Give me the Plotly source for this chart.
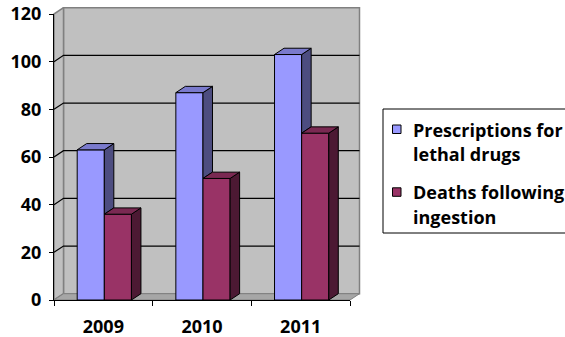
import plotly.graph_objects as go

# ---- data ----
years = ["2009", "2010", "2011"]
prescriptions = [63, 87, 103]
deaths = [36, 51, 70]
y_ticks = [0, 20, 40, 60, 80, 100, 120]
legend_lines = [["Prescriptions for", "lethal drugs"], ["Deaths following", "ingestion"]]

# ---- layout constants (pixels) ----
W, H = 565, 337
FL, FR, FT, FB = 54, 350, 14, 300      # front plot area
DX, DY = 9.5, 6.3                      # 3-D depth offset in px
PAD = 3
Y_MAX = 120
xpos = list(range(len(years)))
X0, X1 = -0.5, len(years) - 0.5
ppx = (FR - FL) / (X1 - X0)            # px per x unit
ppy = (FB - FT) / Y_MAX                # px per y unit
dxu, dyu = DX / ppx, DY / ppy

FONT = "Open Sans"
BLUE_F, BLUE_T, BLUE_S = "#9999FF", "#7A7ACC", "#4D4D80"
RED_F, RED_T, RED_S = "#993366", "#7A2952", "#4C1933"
WALL, FLOOR, EDGE = "#C0C0C0", "#A6A6A6", "#808080"

BW = 0.275
offs = [-0.265, 0.01]

fig = go.Figure()

def poly(xs, ys, fill, line, lw=1, xa="x", ya="y"):
    fig.add_trace(go.Scatter(x=xs, y=ys, mode="lines", fill="toself", fillcolor=fill,
                             line=dict(color=line, width=lw), hoverinfo="skip",
                             showlegend=False, xaxis=xa, yaxis=ya))

# ---------- background (walls, floor, grid) ----------
poly([X0 + dxu, X1 + dxu, X1 + dxu, X0 + dxu, X0 + dxu],
     [dyu, dyu, Y_MAX + dyu, Y_MAX + dyu, dyu], WALL, EDGE, 1.5)
poly([X0, X0 + dxu, X0 + dxu, X0, X0],
     [0, dyu, Y_MAX + dyu, Y_MAX, 0], WALL, EDGE, 1.5)
poly([X0, X1, X1 + dxu, X0 + dxu, X0],
     [0, 0, dyu, dyu, 0], FLOOR, EDGE, 1)
gx, gy = [], []
for t in y_ticks[1:-1]:
    gx += [X0, X0 + dxu, X1 + dxu, None]
    gy += [t, t + dyu, t + dyu, None]
fig.add_trace(go.Scatter(x=gx, y=gy, mode="lines", line=dict(color="black", width=1.2),
                         hoverinfo="skip", showlegend=False, xaxis="x", yaxis="y"))

# ---------- bars ----------
front_cols = [BLUE_F, RED_F]
top_cols = [BLUE_T, RED_T]
side_cols = [BLUE_S, RED_S]
vals = [prescriptions, deaths]

for k in range(2):
    fig.add_trace(go.Bar(x=xpos, y=vals[k], width=BW, offset=offs[k],
                         name=" ".join(legend_lines[k]),
                         marker=dict(color=front_cols[k], line=dict(color="black", width=1)),
                         showlegend=False, xaxis="x2", yaxis="y2", hoverinfo="skip"))

for k in range(2):
    tx, ty, sx, sy = [], [], [], []
    for i, c in enumerate(xpos):
        v = vals[k][i]
        a = c + offs[k]
        b = a + BW
        base = deaths[i] if k == 0 else 0
        tx += [a, b, b + dxu, a + dxu, a, None]
        ty += [v, v, v + dyu, v + dyu, v, None]
        sx += [b, b + dxu, b + dxu, b, b, None]
        sy += [base, base + dyu, v + dyu, v, base, None]
    poly(sx, sy, side_cols[k], "black", 1, "x2", "y2")
    poly(tx, ty, top_cols[k], "black", 1, "x2", "y2")

# ---------- legend (box, swatches, text) ----------
LG_L, LG_T, LG_B = 383, 109, 233
shapes = [dict(type="rect", xref="paper", yref="paper",
               x0=LG_L / W, x1=(W + 5) / W, y0=1 - LG_B / H, y1=1 - LG_T / H,
               line=dict(color="black", width=1), fillcolor="white", layer="below")]
annotations = []
item_y = [129.5, 192.3]      # cap-centre of first line of each item (px)
line_gap = 24.6
for k in range(2):
    cy = item_y[k]
    shapes.append(dict(type="rect", xref="paper", yref="paper",
                       x0=392.5 / W, x1=401 / W, y0=1 - (cy + 4) / H, y1=1 - (cy - 4.5) / H,
                       line=dict(color="black", width=1), fillcolor=front_cols[k]))
    for j, txt in enumerate(legend_lines[k]):
        annotations.append(dict(text=txt, xref="paper", yref="paper",
                                x=411 / W, y=1 - (cy + j * line_gap) / H,
                                xanchor="left", yanchor="middle", showarrow=False,
                                font=dict(family=FONT, size=18, weight="bold", color="black")))

fig.update_layout(
    width=W, height=H,
    margin=dict(l=0, r=0, t=0, b=0, autoexpand=False),
    paper_bgcolor="white", plot_bgcolor="rgba(0,0,0,0)",
    barmode="overlay", showlegend=False,
    font=dict(family=FONT, size=18, color="black", weight="bold"),
    shapes=shapes, annotations=annotations,
    xaxis=dict(domain=[(FL - PAD) / W, (FR + DX + PAD) / W],
               range=[X0 - PAD / ppx, X1 + dxu + PAD / ppx], visible=False, fixedrange=True),
    yaxis=dict(domain=[(H - FB - PAD) / H, (H - FT + DY + PAD) / H],
               range=[-PAD / ppy, Y_MAX + dyu + PAD / ppy], visible=False, fixedrange=True),
    xaxis2=dict(domain=[FL / W, FR / W], range=[X0, X1], anchor="y2",
                tickvals=xpos, ticktext=years, ticks="", showgrid=False, zeroline=False,
                showline=True, linecolor="black", linewidth=1,
                tickfont=dict(family=FONT, size=18, weight="bold"), ticklabelstandoff=10,
                minor=dict(tickvals=[X0 + i for i in range(len(years) + 1)], ticks="outside",
                           ticklen=5, tickcolor="black", tickwidth=1, showgrid=False)),
    yaxis2=dict(domain=[(H - FB) / H, (H - FT) / H], range=[0, Y_MAX], anchor="x2",
                tickvals=y_ticks, ticks="outside", ticklen=4, tickcolor="black",
                showgrid=False, zeroline=False, showline=True, linecolor="black", linewidth=1,
                tickfont=dict(family=FONT, size=18, weight="bold"), ticklabelstandoff=4),
)

fig.write_html("out.html")
